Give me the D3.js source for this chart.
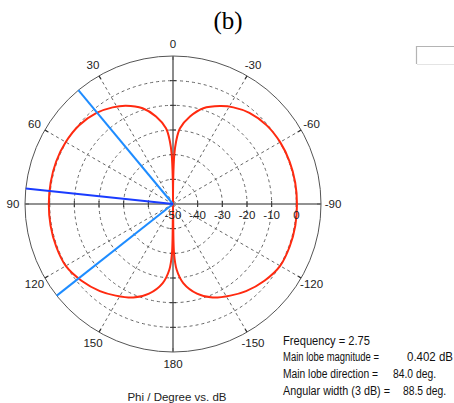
<!DOCTYPE html>
<html>
<head>
<meta charset="utf-8">
<script src="https://cdn.jsdelivr.net/npm/d3@7"></script>
<style>
  html, body { margin: 0; padding: 0; background: #fff; }
  svg { display: block; }
  text { font-family: "Liberation Sans", Arial, sans-serif; }
</style>
</head>
<body>
<svg id="chart" width="454" height="403"></svg>
<script>
// ---- data (angles in degrees, positive = counter-clockwise from top / "0") ----
const patternAngles = [0, 0.5, 1.5, 2.8, 5.3, 11, 17.6, 25.6, 32, 40, 50, 60, 70, 80, 90, 100, 110, 120, 130, 140, 148, 157, 165, 172.6, 176.8, 178.8, 180,
                       -178.8, -176.8, -172.6, -165, -157, -148, -140, -130, -120, -110, -100, -90, -80, -70, -60, -50, -40, -32, -25.6, -17.6, -11, -5.3, -2.8, -1.5, -0.5, 0];
const patternDb = [-50, -40, -30, -24.7, -19.2, -13.9, -9.3, -5.8, -3.8, -1.8, -0.35, 0.2, 0.4, 0.35, 0.35, 0.4, 0.4, 0.2, -1.6, -3.9, -6.2, -8.8, -12.4, -17.7, -23.3, -30, -50,
                   -30, -23.3, -17.7, -12.4, -8.8, -6.2, -3.9, -1.6, 0.15, 0.35, 0.35, 0.25, 0.3, 0.3, 0.15, -0.4, -1.8, -3.8, -6.0, -9.3, -13.9, -19.2, -24.7, -30, -40, -50];
const angleTicks = [0, 30, 60, 90, 120, 150, 180, -150, -120, -90, -60, -30];
const dbTicks = [-50, -40, -30, -20, -10, 0];
const dbRings = [-40, -30, -20, -10, 0];
const mainLobeDirection = 84.0;
const angularWidth = 88.5;
const infoLabels = ["Frequency = 2.75", "Main lobe magnitude =", "Main lobe direction =", "Angular width (3 dB) ="];
const infoValues = ["", "0.402 dB", "84.0 deg.", "88.5 deg."];
const titleText = "(b)";
const axisTitle = "Phi / Degree vs. dB";

// ---- layout ----
const cx = 173, cy = 204, R = 148;
const svg = d3.select("#chart");
const g = svg.append("g").attr("transform", `translate(${cx},${cy})`);
const r = d3.scaleLinear().domain([-50, 10]).range([0, R]);
const toRad = d => -d * Math.PI / 180;           // CCW degrees -> d3 clockwise radians
const px = (deg, rad) => rad * Math.sin(toRad(deg));
const py = (deg, rad) => -rad * Math.cos(toRad(deg));

// title
svg.append("text").attr("x", 228).attr("y", 29).attr("text-anchor", "middle")
  .style("font-family", "'Liberation Serif','Times New Roman',serif").style("font-size", "25px")
  .attr("fill", "#000").text(titleText);

// small box top right
svg.append("path").attr("d", "M455,46.5 H416.5 V64").attr("fill", "none").attr("stroke", "#b4b4b4").attr("stroke-width", 1.2);
svg.append("path").attr("d", "M417,64.5 H455").attr("fill", "none").attr("stroke", "#e4e4e4").attr("stroke-width", 1);

// dashed rings
g.selectAll("circle.ring").data(dbRings).join("circle").attr("class", "ring")
  .attr("r", d => r(d)).attr("fill", "none").attr("stroke", "#666").attr("stroke-width", 1)
  .attr("stroke-dasharray", "3,3");

// dashed spokes
const spokes = angleTicks.filter(a => a % 90 !== 0);
g.selectAll("line.spoke").data(spokes).join("line").attr("class", "spoke")
  .attr("x1", 0).attr("y1", 0).attr("x2", d => px(d, R)).attr("y2", d => py(d, R))
  .attr("stroke", "#666").attr("stroke-width", 1).attr("stroke-dasharray", "3,3");

// outer circle
g.append("circle").attr("r", R).attr("fill", "none").attr("stroke", "#555").attr("stroke-width", 1);
// outer ticks
g.selectAll("line.otick").data(angleTicks).join("line").attr("class", "otick")
  .attr("x1", d => px(d, R - 4)).attr("y1", d => py(d, R - 4))
  .attr("x2", d => px(d, R)).attr("y2", d => py(d, R))
  .attr("stroke", "#333").attr("stroke-width", 1.2);

// main axes
g.append("line").attr("x1", -R).attr("x2", R).attr("y1", 0).attr("y2", 0).attr("stroke", "#6e6e6e").attr("stroke-width", 1.6);
g.append("line").attr("y1", -R).attr("y2", R).attr("x1", 0).attr("x2", 0).attr("stroke", "#6e6e6e").attr("stroke-width", 1.6);
// axis ticks at rings
[1, -1].forEach(s => {
  g.selectAll(null).data(dbRings).join("line")
    .attr("x1", d => s * r(d)).attr("x2", d => s * r(d)).attr("y1", -3).attr("y2", 3)
    .attr("stroke", "#333").attr("stroke-width", 1);
  g.selectAll(null).data(dbRings).join("line")
    .attr("y1", d => s * r(d)).attr("y2", d => s * r(d)).attr("x1", -3).attr("x2", 3)
    .attr("stroke", "#333").attr("stroke-width", 1);
});

// pattern
const pts = patternAngles.map((a, i) => [toRad(a), r(patternDb[i])]);
const line = d3.lineRadial().angle(d => d[0]).radius(d => d[1]).curve(d3.curveCatmullRom.alpha(0.5));
g.append("path").attr("d", line(pts)).attr("fill", "none").attr("stroke", "#ff2a10").attr("stroke-width", 2);

// lobe lines
const halfW = angularWidth / 2;
[mainLobeDirection - halfW, mainLobeDirection + halfW].forEach(a => {
  g.append("line").attr("x1", 0).attr("y1", 0).attr("x2", px(a, R)).attr("y2", py(a, R))
    .attr("stroke", "#1e8cff").attr("stroke-width", 2);
});
g.append("line").attr("x1", 0).attr("y1", 0).attr("x2", px(mainLobeDirection, R)).attr("y2", py(mainLobeDirection, R))
  .attr("stroke", "#1a3cff").attr("stroke-width", 2);

// angle labels
g.selectAll("text.alab").data(angleTicks).join("text").attr("class", "alab")
  .attr("x", d => px(d, 160)).attr("y", d => py(d, 160))
  .attr("text-anchor", "middle").attr("dominant-baseline", "central")
  .style("font-size", "11.5px").attr("fill", "#222").text(d => d);

// dB labels
g.selectAll("text.dlab").data(dbTicks).join("text").attr("class", "dlab")
  .attr("x", d => r(d)).attr("y", 11)
  .attr("text-anchor", "middle").attr("dominant-baseline", "central")
  .style("font-size", "11.5px").attr("fill", "#222").text(d => d);

// axis title
svg.append("text").attr("x", 177).attr("y", 401).attr("text-anchor", "middle")
  .style("font-size", "11.5px").attr("fill", "#222").text(axisTitle);

// info block
const valueX = [0, 407, 393, 403];
const labelLen = [87, 96, 95, 107];
const valueLen = [0, 46, 43, 43];
infoLabels.forEach((t, i) => {
  const y = 344.5 + i * 16.7;
  svg.append("text").attr("x", 283).attr("y", y).style("font-size", "12px").attr("fill", "#111")
    .attr("textLength", labelLen[i]).attr("lengthAdjust", "spacingAndGlyphs").text(t);
  if (infoValues[i]) {
    svg.append("text").attr("x", valueX[i]).attr("y", y).style("font-size", "12px").attr("fill", "#111")
      .attr("textLength", valueLen[i]).attr("lengthAdjust", "spacingAndGlyphs").text(infoValues[i]);
  }
});
</script>
</body>
</html>
